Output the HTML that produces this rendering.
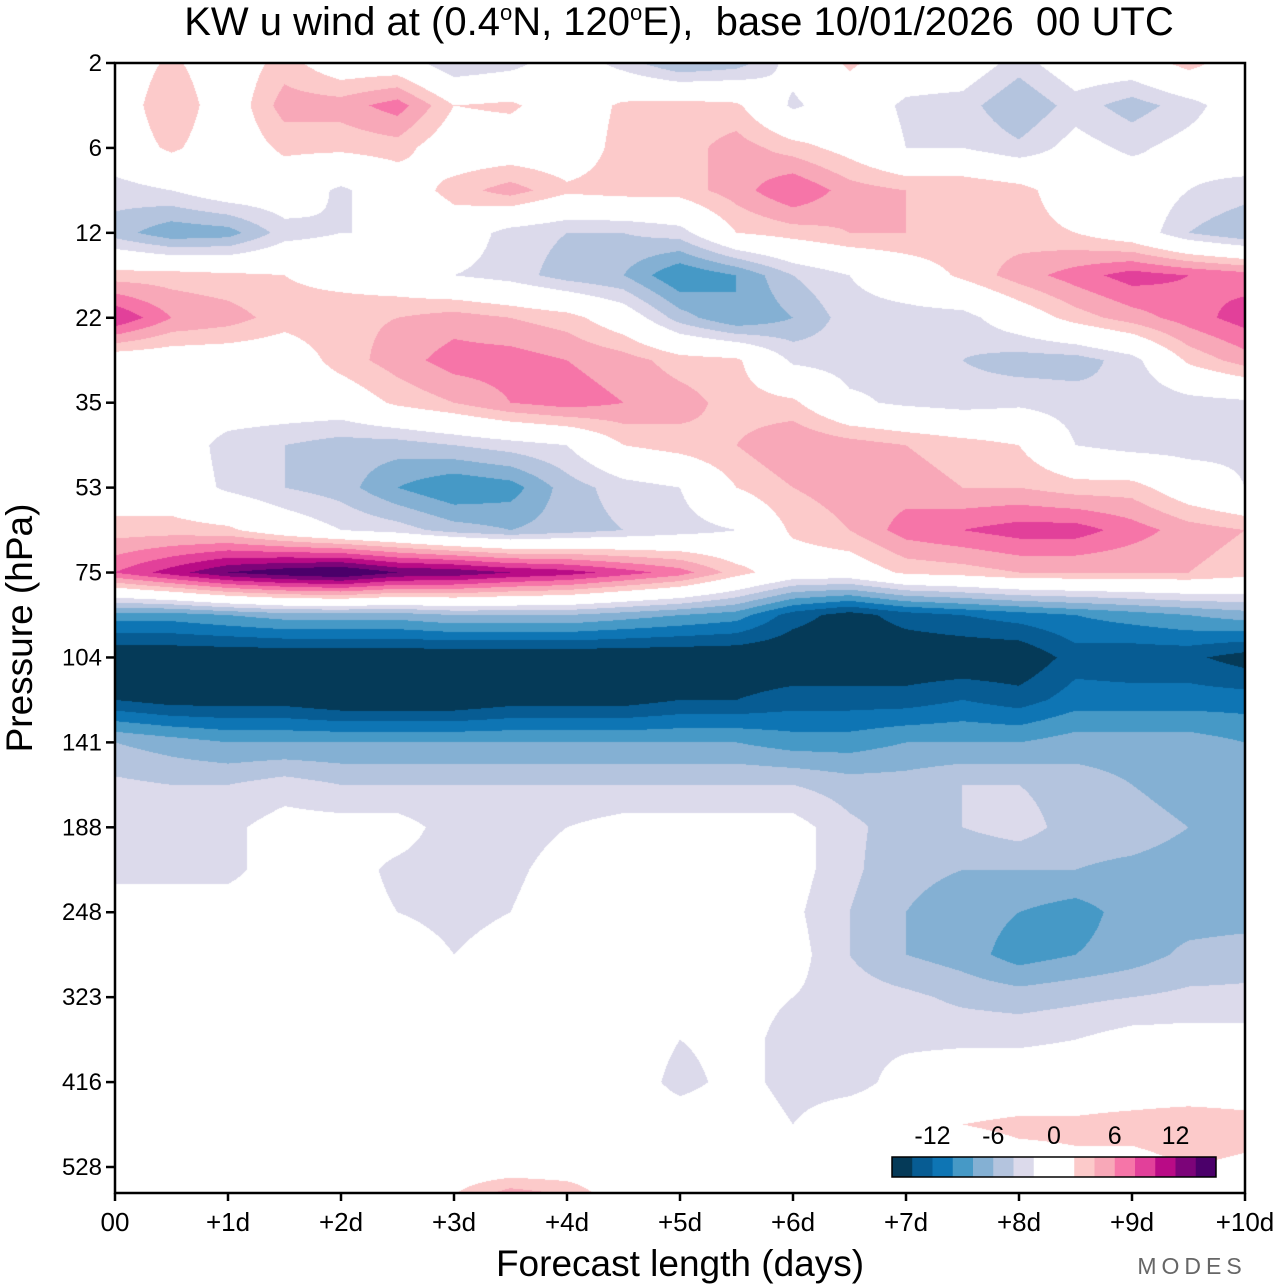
<!DOCTYPE html>
<html><head><meta charset="utf-8">
<style>
html,body{margin:0;padding:0;background:#fff;}
body{width:1280px;height:1286px;position:relative;overflow:hidden;font-family:"Liberation Sans",sans-serif;}
#plot{position:absolute;left:115px;top:63px;}
svg{position:absolute;left:0;top:0;}
</style></head>
<body>
<canvas id="plot" width="1130" height="1130"></canvas>
<svg id="axes" width="1280" height="1286"></svg>
<script>
// ---- data ----
const dayLabels = ["00","+1d","+2d","+3d","+4d","+5d","+6d","+7d","+8d","+9d","+10d"];
const pressureTicks = ["2","6","12","22","35","53","75","104","141","188","248","323","416","528"];
const legendLabels = ["-12","-6","0","6","12"];
const legendValues = [-12,-6,0,6,12];
const levelColors = ["#053a58","#075c93","#0e75b4","#4699c6","#84b0d3","#b4c4de","#dcdaeb","#ffffff","#ffffff","#fccaca","#f8a8b8","#f675a8","#e2409a","#b90b86","#7c0479","#4b006a"];
// u wind (m/s): rows = half pressure-tick steps from 2 hPa downward, columns = half-day steps
const uWind = [
[0,2.5,0,3,0,0,-4,-3,0,-3,-6,-5,-1,2.5,0,0,-3,0,0,3,0],
[0,4,0,5,5,7,2,2.5,0,2.5,3,2.5,-2.5,0,-2.5,-3,-6,-3,-5,-3,0],
[0,2.5,0,2.5,2.5,3,0,0,0,3,3,5,3,1,-2,-2,-3.5,-1,-2.5,-1,0],
[-3,-2,0,0,-2.5,0,3,5,2.5,3,3,5,8,5,4,4,3,0,0,-2,-3],
[-5,-7.5,-7,-3,-2,-2,0,-3,-4,-4,-3,2,3,4,4,3.5,3,2,0,-4,-6],
[3,3,2.5,2,1,0,-2,-3,-5,-6,-10,-8,-4,-2,0,2.5,5,7,9,8,7],
[10,6,5,3,3.5,4,5,4,3,0,-5,-8,-6,-3,-3,-3,0,3,5,7,9],
[0,0,0,0,3,5,7,7,6,5,3,2.5,-2.5,-3,-2.5,-4,-5,-5,-3,2.5,5],
[0,0,0,0,0,2.5,4,6,7,6,5,3,2.5,-1.5,-2.5,-3,-2.5,-3,-4,-3,-2.5],
[0,0,-3,-4,-5,-5,-4,-3,-2,2,3,4,6,5,4,3,2,-2,-3,-3,-2.5],
[0,0,-2.5,-4,-5,-8,-10,-9,-5,-3,-2,2,4,5,5,4,4,3,3,0,-2],
[3,3,2.5,0,-2,-3,-5,-6,-5,-4,-3,-2,2.5,4,7,8,9,9,7,5,4],
[8,11,14,15.5,16.5,14,13.5,12,11,9,7,3,0,0,2.5,3,4,4,4,4,3],
[-9,-9,-8,-7,-7,-7,-6,-6,-6,-7,-8,-9,-13,-15,-13,-12,-11,-10,-9,-8,-7],
[-16,-16,-16,-16,-16,-16,-16,-16,-16,-16,-16,-16,-16,-16,-16,-16,-16,-13,-13.5,-13.5,-15],
[-14,-15,-15,-15,-16,-16,-16,-15,-15,-15,-14,-14,-13,-13,-13,-12,-13,-11,-11,-11,-11],
[-6,-7,-8,-8,-8,-8,-8,-8,-8,-8,-8,-8,-9,-9,-8,-8,-8,-7,-7,-7,-8],
[-3.5,-4,-4,-3,-4,-4,-4,-4,-4,-4,-4,-4,-4,-5,-5,-4,-4,-5,-6,-7,-7],
[-3,-3,-2.5,-1,-1,-1,-3,-3,-2,-1,-1,-1,-1,-3.5,-5,-4,-3,-5,-5,-6,-7],
[-3,-3,-2.5,-1,-1,-2.5,-3,-2.5,-1,-1,-1,-1,-1,-3.5,-5.5,-6,-6,-6,-6.5,-7,-7],
[0,0,-1,-1,-1,-2,-3,-2,-0.5,-1,-1,-1,-1.5,-4,-6,-7,-8,-9,-7,-7,-7],
[0,0,0,0,0,0,-2,-0.5,0,0,0,0,-1,-4,-6,-7,-9,-8,-7,-5.5,-5],
[0,0,0,0,0,0,0,0,0,0,0,-1,-2,-3,-3.5,-4.5,-5,-4.5,-4,-3.5,-3.5],
[0,0,0,0,0,0,0,0,0,0,-2,-1,-3,-2.5,-2.5,-2.5,-2.5,-2,-1,-1,-1],
[0,0,0,0,0,0,0,0,0,0,-3,-1,-3,-3,-1,0,0,0,0,0,0],
[0,0,0,0,0,0,0,0,0,0,0,0,-2,0,0,2,2.5,2.5,3,3.5,3],
[0,0,0,0,0,0,0,0,0,0,0,0,0,0,0,0,1,1.5,1,2,1.5],
[0,0,0,0,0,0,3,8,6,0,0,0,0,0,0,0,0,0,0,0,0]
];

// ---- axes functions ----
const X0=115, X1=1245, Y0=63, Y1=1193;
const tickStep=(1167-63)/13;
function xOfDay(d){ return X0 + (X1-X0)*d/10; }
function yOfTickIndex(i){ return Y0 + tickStep*i; }
function levelIndex(v){ let k=Math.floor((v+16)/2); return Math.max(0,Math.min(15,k)); }

// ---- draw field ----
(function(){
  const cv=document.getElementById('plot'), ctx=cv.getContext('2d');
  const W=cv.width,H=cv.height, img=ctx.createImageData(W,H);
  const nr=uWind.length, nc=uWind[0].length;
  const rgb=levelColors.map(c=>[parseInt(c.substr(1,2),16),parseInt(c.substr(3,2),16),parseInt(c.substr(5,2),16)]);
  const colDx=(X1-X0)/(nc-1), rowDy=tickStep/2;
  for(let py=0;py<H;py++){
    let fr=(py+0.5)/rowDy; let r=Math.min(nr-2,Math.floor(fr)); let ty=fr-r;
    for(let px=0;px<W;px++){
      let fc=(px+0.5)/colDx; let c=Math.min(nc-2,Math.floor(fc)); let tx=fc-c;
      const v=(uWind[r][c]*(1-tx)+uWind[r][c+1]*tx)*(1-ty)+(uWind[r+1][c]*(1-tx)+uWind[r+1][c+1]*tx)*ty;
      const col=rgb[levelIndex(v)], o=(py*W+px)*4;
      img.data[o]=col[0];img.data[o+1]=col[1];img.data[o+2]=col[2];img.data[o+3]=255;
    }
  }
  ctx.putImageData(img,0,0);
})();

// ---- svg axes ----
const svg=document.getElementById('axes'), NS='http://www.w3.org/2000/svg';
function mk(tag,attrs,text){ const e=document.createElementNS(NS,tag); for(const k in attrs) e.setAttribute(k,attrs[k]); if(text!==undefined) e.textContent=text; svg.appendChild(e); return e; }

let frame=mk('rect',{x:X0,y:Y0,width:X1-X0,height:Y1-Y0,fill:'none',stroke:'#000','stroke-width':2.5});



pressureTicks.forEach((lab,i)=>{
  const y=yOfTickIndex(i);
  const t=mk('line',{x1:X0-9,x2:X0,y1:y,y2:y,stroke:'#000','stroke-width':2.5});
  
  
  const tx=mk('text',{x:X0-13,y:y+8,'text-anchor':'end','font-size':24,'font-family':'Liberation Sans, sans-serif'},lab);
  
  
});
dayLabels.forEach((lab,i)=>{
  const x=xOfDay(i);
  const t=mk('line',{x1:x,x2:x,y1:Y1,y2:Y1+8,stroke:'#000','stroke-width':2.5});
  
  
  const tx=mk('text',{x:x,y:1231,'text-anchor':'middle','font-size':26,'font-family':'Liberation Sans, sans-serif'},lab);
  
  
});

// legend
const LX=892, LY=1157, LW=324, LH=20, bw=LW/levelColors.length;
levelColors.forEach((c,i)=>{
  const r=mk('rect',{x:LX+i*bw,y:LY,width:bw+0.5,height:LH,fill:c});
  
  
});
let lf=mk('rect',{x:LX,y:LY,width:LW,height:LH,fill:'none',stroke:'#000','stroke-width':1.5});


legendLabels.forEach((lab,i)=>{
  const x=LX+LW*(legendValues[i]+16)/32;
  const t=mk('text',{x:x,y:1144,'text-anchor':'middle','font-size':25,'font-family':'Liberation Sans, sans-serif'},lab);
  
  
});
</script>
<svg width="1280" height="1286" style="position:absolute;left:0;top:0;pointer-events:none">
  <text x="679" y="35" text-anchor="middle" font-size="40" font-family="Liberation Sans, sans-serif">KW u wind at (0.4<tspan font-size="22" dy="-15">o</tspan><tspan dy="15">N, 120</tspan><tspan font-size="22" dy="-15">o</tspan><tspan dy="15">E),&#160;&#160;base 10/01/2026&#160;&#160;00 UTC</tspan></text>
  <text x="680" y="1276" text-anchor="middle" font-size="37" font-family="Liberation Sans, sans-serif">Forecast length (days)</text>
  <text transform="translate(32,628) rotate(-90)" text-anchor="middle" font-size="37" font-family="Liberation Sans, sans-serif">Pressure (hPa)</text>
  <text x="1192" y="1274" text-anchor="middle" font-size="23" letter-spacing="5" fill="#666" font-family="Liberation Sans, sans-serif">MODES</text>
</svg>
</body></html>
